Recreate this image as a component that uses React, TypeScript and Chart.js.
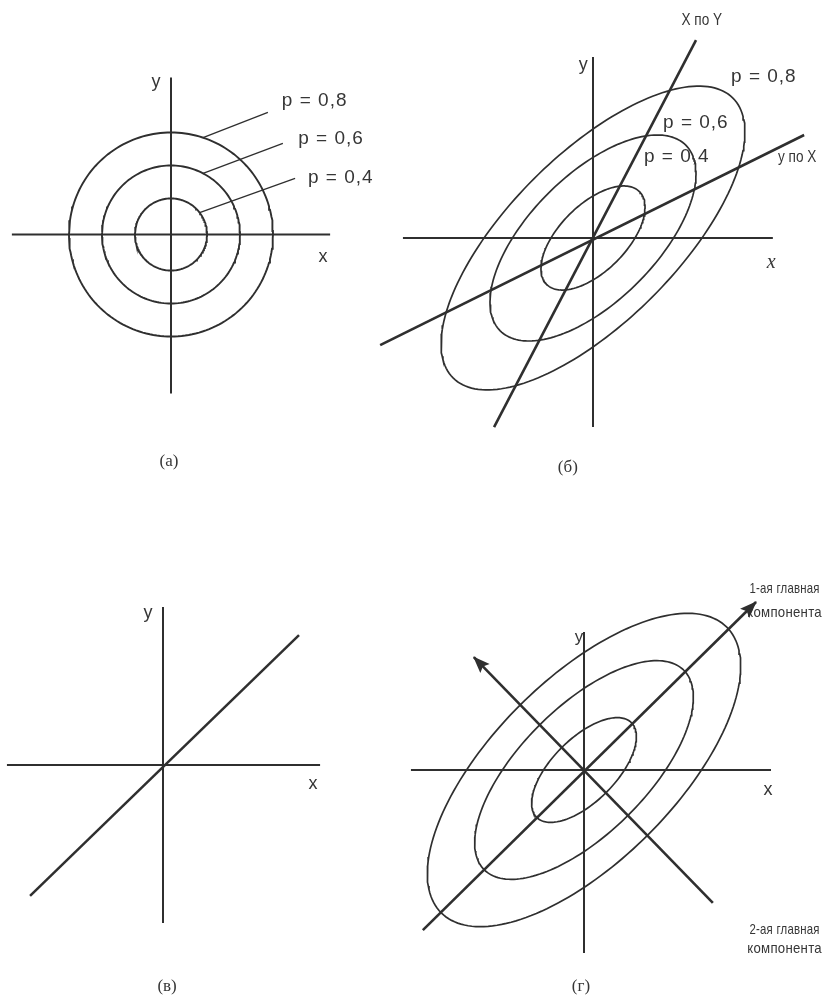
import { useEffect, useRef } from 'react';
import { Chart, registerables } from 'chart.js';

Chart.register(...registerables);

const W = 822;
const H = 1008;
const UNIT = 34; // pixels per diagram unit, same on both axes
const INK = '#2f2f2f';
const TEXT = '#363636';

// ---------- (а) independent x and y: circular contours ----------
const levelLabels = ['p = 0,8', 'p = 0,6', 'p = 0,4'];
const circleRadii = [3.0, 2.03, 1.06];
const leaderAnglesA = [71.7, 62.3, 37.4]; // degrees where each leader leaves its circle
const leaderEndsA = [[2.85, 3.59], [3.29, 2.68], [3.65, 1.65]];
const axisXA = [-4.68, 4.68];
const axisYA = [-4.68, 4.62];

// ---------- (б) correlated x and y with both regression lines ----------
const majorB = [5.82, 3.86, 1.93];
const minorB = [2.46, 1.86, 0.98];
const tiltB = 45;
const axisXB = [-5.59, 5.29];
const axisYB = [-5.56, 5.32];
const lineXonY = [[-2.91, -5.56], [3.03, 5.82]];
const lineYonX = [[-6.26, -3.15], [6.21, 3.03]];

// ---------- (в) functional dependence ----------
const axisXC = [-4.59, 4.62];
const axisYC = [-4.65, 4.65];
const lineC = [[-3.91, -3.85], [4.0, 3.82]];

// ---------- (г) principal components ----------
const majorD = [5.94, 4.15, 1.97];
const minorD = [2.68, 1.86, 0.93];
const tiltD = 45;
const axisXD = [-5.09, 5.5];
const axisYD = [-5.38, 4.06];
const pc1 = [[-4.74, -4.71], [5.06, 4.94]]; // tail -> arrow tip
const pc2 = [[3.79, -3.91], [-3.24, 3.32]]; // tail -> arrow tip

// Where each panel's origin sits on the page
const panelOrigins: Record<string, [number, number]> = {
  a: [171, 234.5],
  b: [593, 238],
  c: [163, 765],
  d: [584, 770],
};

type Pt = { x: number; y: number };

const toPts = (arr: number[][]): Pt[] => arr.map(([x, y]) => ({ x, y }));

function ellipse(a: number, b: number, deg: number, n = 180): Pt[] {
  const t0 = (deg * Math.PI) / 180;
  const pts: Pt[] = [];
  for (let i = 0; i <= n; i++) {
    const t = (2 * Math.PI * i) / n;
    const u = a * Math.cos(t);
    const v = b * Math.sin(t);
    pts.push({ x: u * Math.cos(t0) - v * Math.sin(t0), y: u * Math.sin(t0) + v * Math.cos(t0) });
  }
  return pts;
}

function line(panel: string, pts: Pt[], width: number, extra: Record<string, unknown> = {}) {
  return {
    data: pts,
    xAxisID: 'x' + panel,
    yAxisID: 'y' + panel,
    showLine: true,
    pointRadius: 0,
    pointHoverRadius: 0,
    borderColor: INK,
    borderWidth: width,
    fill: false,
    tension: 0,
    ...extra,
  };
}

const hAxis = (p: string, r: number[]) => line(p, [{ x: r[0], y: 0 }, { x: r[1], y: 0 }], 2);
const vAxis = (p: string, r: number[]) => line(p, [{ x: 0, y: r[0] }, { x: 0, y: r[1] }], 2);

const datasets = [
  // (а)
  hAxis('a', axisXA),
  vAxis('a', axisYA),
  ...circleRadii.map((r) => line('a', ellipse(r, r, 0), 1.9)),
  ...leaderAnglesA.map((deg, i) => {
    const t = (deg * Math.PI) / 180;
    const r = circleRadii[i];
    return line('a', [{ x: r * Math.cos(t), y: r * Math.sin(t) }, { x: leaderEndsA[i][0], y: leaderEndsA[i][1] }], 1.3);
  }),
  // (б)
  hAxis('b', axisXB),
  vAxis('b', axisYB),
  ...majorB.map((a, i) => line('b', ellipse(a, minorB[i], tiltB), 1.7)),
  line('b', toPts(lineXonY), 2.6),
  line('b', toPts(lineYonX), 2.6),
  // (в)
  hAxis('c', axisXC),
  vAxis('c', axisYC),
  line('c', toPts(lineC), 2.5),
  // (г)
  hAxis('d', axisXD),
  vAxis('d', axisYD),
  ...majorD.map((a, i) => line('d', ellipse(a, minorD[i], tiltD), 1.7)),
  line('d', toPts(pc1), 2.6, { arrow: true }),
  line('d', toPts(pc2), 2.6, { arrow: true }),
];

type Label = {
  p: string;
  text: string;
  x: number;
  y: number;
  font: string;
  align?: CanvasTextAlign;
  spacing?: string;
  squeeze?: number;
};

const P_FONT = '19px "Liberation Sans", Arial, sans-serif';
const AX_FONT = '18px "Liberation Sans", Arial, sans-serif';
const SMALL_FONT = '17px "Liberation Sans", Arial, sans-serif';
const NOTE_FONT = '15px "Liberation Sans", Arial, sans-serif';
const CAP_FONT = '17px "Liberation Serif", "DejaVu Serif", serif';

const labelPosA = [[3.26, 3.94], [3.74, 2.82], [4.03, 1.68]];
const labelPosB = [[4.06, 4.74], [2.06, 3.38], [1.5, 2.38]];

const labels: Label[] = [
  ...levelLabels.map((t, i) => ({ p: 'a', text: t, x: labelPosA[i][0], y: labelPosA[i][1], font: P_FONT, align: 'left' as CanvasTextAlign, spacing: '1px' })),
  { p: 'a', text: 'y', x: -0.44, y: 4.47, font: AX_FONT },
  { p: 'a', text: 'x', x: 4.47, y: -0.65, font: AX_FONT },
  { p: 'a', text: '(а)', x: -0.06, y: -6.68, font: CAP_FONT },

  ...levelLabels.map((t, i) => ({ p: 'b', text: t, x: labelPosB[i][0], y: labelPosB[i][1], font: P_FONT, align: 'left' as CanvasTextAlign, spacing: '1px' })),
  { p: 'b', text: 'X по Y', x: 3.2, y: 6.41, font: SMALL_FONT, squeeze: 0.8 },
  { p: 'b', text: 'y по X', x: 5.44, y: 2.38, font: SMALL_FONT, align: 'left', squeeze: 0.8 },
  { p: 'b', text: 'y', x: -0.29, y: 5.09, font: AX_FONT },
  { p: 'b', text: 'x', x: 5.24, y: -0.74, font: 'italic 20px "Liberation Serif", "DejaVu Serif", serif' },
  { p: 'b', text: '(б)', x: -0.74, y: -6.76, font: CAP_FONT },

  { p: 'c', text: 'y', x: -0.44, y: 4.47, font: AX_FONT },
  { p: 'c', text: 'x', x: 4.41, y: -0.56, font: AX_FONT },
  { p: 'c', text: '(в)', x: 0.12, y: -6.53, font: CAP_FONT },

  { p: 'd', text: 'y', x: -0.15, y: 3.91, font: SMALL_FONT },
  { p: 'd', text: 'x', x: 5.41, y: -0.59, font: AX_FONT },
  { p: 'd', text: '1-ая главная', x: 5.9, y: 5.32, font: NOTE_FONT, squeeze: 0.76, spacing: '0.3px' },
  { p: 'd', text: 'компонента', x: 5.9, y: 4.62, font: NOTE_FONT, squeeze: 0.88, spacing: '0.3px' },
  { p: 'd', text: '2-ая главная', x: 5.9, y: -4.71, font: NOTE_FONT, squeeze: 0.76, spacing: '0.3px' },
  { p: 'd', text: 'компонента', x: 5.9, y: -5.26, font: NOTE_FONT, squeeze: 0.88, spacing: '0.3px' },
  { p: 'd', text: '(г)', x: -0.09, y: -6.38, font: CAP_FONT },
];

const textPlugin = {
  id: 'diagramText',
  afterDatasetsDraw(chart: Chart) {
    const ctx = chart.ctx;
    ctx.save();
    ctx.fillStyle = TEXT;
    ctx.textBaseline = 'middle';
    for (const l of labels) {
      const px = chart.scales['x' + l.p].getPixelForValue(l.x);
      const py = chart.scales['y' + l.p].getPixelForValue(l.y);
      ctx.font = l.font;
      ctx.textAlign = l.align ?? 'center';
      (ctx as any).letterSpacing = l.spacing ?? '0px';
      const k = l.squeeze ?? 1;
      ctx.save();
      ctx.translate(px, py);
      ctx.scale(k, 1);
      ctx.fillText(l.text, 0, 0);
      ctx.restore();
    }
    ctx.restore();
  },
};

const arrowPlugin = {
  id: 'arrowHeads',
  afterDatasetsDraw(chart: Chart) {
    const ctx = chart.ctx;
    chart.data.datasets.forEach((ds: any, i: number) => {
      if (!ds.arrow) return;
      const els = chart.getDatasetMeta(i).data as any[];
      const a = els[els.length - 2];
      const b = els[els.length - 1];
      const ang = Math.atan2(b.y - a.y, b.x - a.x);
      const len = 16;
      const half = 6.5;
      ctx.save();
      ctx.fillStyle = INK;
      ctx.translate(b.x, b.y);
      ctx.rotate(ang);
      ctx.beginPath();
      ctx.moveTo(1, 0);
      ctx.lineTo(-len, -half);
      ctx.lineTo(-len + 3, 0);
      ctx.lineTo(-len, half);
      ctx.closePath();
      ctx.fill();
      ctx.restore();
    });
  },
};

function buildScales() {
  const scales: Record<string, any> = {};
  for (const [p, [ox, oy]] of Object.entries(panelOrigins)) {
    scales['x' + p] = { type: 'linear', axis: 'x', display: false, min: -ox / UNIT, max: (W - ox) / UNIT };
    scales['y' + p] = { type: 'linear', axis: 'y', display: false, min: -(H - oy) / UNIT, max: oy / UNIT };
  }
  return scales;
}

export default function App() {
  const ref = useRef<HTMLCanvasElement>(null);

  useEffect(() => {
    const canvas = ref.current;
    if (!canvas) return;
    const chart = new Chart(canvas, {
      type: 'scatter',
      data: { datasets: datasets as any },
      options: {
        animation: false,
        responsive: false,
        maintainAspectRatio: false,
        devicePixelRatio: 1,
        events: [],
        layout: { padding: 0 },
        scales: buildScales(),
        plugins: {
          legend: { display: false },
          tooltip: { enabled: false },
        },
      },
      plugins: [textPlugin, arrowPlugin],
    });
    return () => chart.destroy();
  }, []);

  return (
    <div style={{ position: 'absolute', left: 0, top: 0, width: W, height: H, background: '#ffffff' }}>
      <canvas ref={ref} width={W} height={H} style={{ display: 'block', width: W, height: H }} />
    </div>
  );
}
